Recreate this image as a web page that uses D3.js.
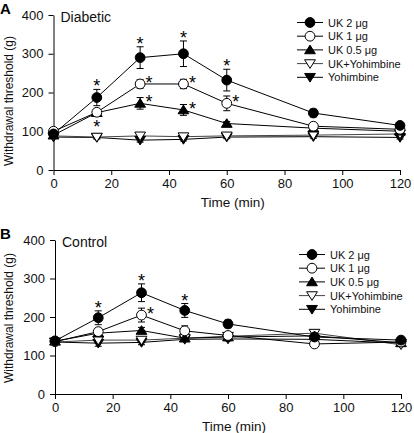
<!DOCTYPE html>
<html><head><meta charset="utf-8">
<script src="https://cdnjs.cloudflare.com/ajax/libs/d3/7.8.5/d3.min.js"></script>
<style>
html,body{margin:0;padding:0;background:#fff;}
svg{display:block;font-family:Arial,"Liberation Sans",sans-serif;}
</style></head>
<body>
<svg id="chart" width="414" height="433"></svg>
<script>
// ---------- data ----------
const times = [0, 15, 30, 45, 60, 90, 120];
const seriesNames = ["UK 2 \u03bcg", "UK 1 \u03bcg", "UK 0.5 \u03bcg", "UK+Yohimbine", "Yohimbine"];
const xTicks = [0, 20, 40, 60, 80, 100, 120];
const yTicks = [0, 100, 200, 300, 400];

// Panel A: Diabetic
const diabUK2   = [93, 187, 290, 300, 232, 147, 115];
const diabUK2e  = [5, 21, 28, 33, 28, 10, 6];
const diabUK1   = [100, 149, 222, 222, 172, 113, 105];
const diabUK1e  = [5, 8, 11, 12, 19, 6, 5];
const diabUK05  = [90, 148, 172, 155, 120, 108, 100];
const diabUK05e = [5, 6, 15, 14, 5, 5, 5];
const diabUKY   = [88, 85, 88, 86, 88, 90, 93];
const diabUKYe  = [4, 4, 5, 4, 4, 4, 4];
const diabYoh   = [85, 84, 77, 79, 85, 86, 84];
const diabYohe  = [4, 4, 5, 4, 4, 4, 4];
// significance marks: [series index, time, placement]
const diabStars = [[0,15,"above"],[0,30,"above"],[0,45,"above"],[0,60,"above"],
                   [1,15,"below"],[1,30,"right"],[1,45,"right"],[1,60,"right"],
                   [2,30,"right"],[2,45,"right"]];

// Panel B: Control
const ctrlUK2   = [138, 198, 263, 217, 182, 148, 140];
const ctrlUK2e  = [5, 18, 23, 18, 10, 8, 6];
const ctrlUK1   = [136, 162, 205, 164, 152, 130, 135];
const ctrlUK1e  = [5, 8, 18, 13, 6, 6, 5];
const ctrlUK05  = [137, 158, 165, 145, 148, 151, 133];
const ctrlUK05e = [5, 6, 8, 6, 5, 6, 5];
const ctrlUKY   = [135, 140, 140, 145, 150, 158, 128];
const ctrlUKYe  = [5, 6, 6, 5, 5, 8, 5];
const ctrlYoh   = [135, 132, 134, 142, 143, 142, 132];
const ctrlYohe  = [5, 8, 6, 5, 5, 6, 5];
const ctrlStars = [[0,15,"above"],[0,30,"above"],[0,45,"above"],[1,30,"right"]];

// ---------- drawing ----------
const svg = d3.select("#chart");
const FONT = "Arial, 'Liberation Sans', sans-serif";

const markerStyle = [
  {shape:"circle", fill:"#000"},
  {shape:"circle", fill:"#fff"},
  {shape:"up", fill:"#000"},
  {shape:"down", fill:"#fff"},
  {shape:"down", fill:"#000"}
];
const lineColor = ["#000","#000","#000","#444","#000"];

function drawMarker(g, cx, cy, st) {
  if (st.shape === "circle") {
    g.append("circle").attr("cx", cx).attr("cy", cy).attr("r", 4.9)
      .attr("fill", st.fill).attr("stroke", "#000").attr("stroke-width", 1);
  } else {
    const w = 5.4, h = 4.8;
    const p = st.shape === "up"
      ? `M${cx},${cy-h} L${cx+w},${cy+h*0.8} L${cx-w},${cy+h*0.8} Z`
      : `M${cx},${cy+h} L${cx+w},${cy-h*0.8} L${cx-w},${cy-h*0.8} Z`;
    g.append("path").attr("d", p).attr("fill", st.fill).attr("stroke", "#000").attr("stroke-width", 1);
  }
}

function panel(opts) {
  const g = svg.append("g");
  const x = d3.scaleLinear().domain([0, 120]).range([opts.x0, opts.x1]);
  const y = d3.scaleLinear().domain([0, 400]).range([opts.yb, opts.yt]);

  const xa = g.append("g").attr("transform", `translate(0,${opts.yb})`)
    .call(d3.axisBottom(x).tickValues(xTicks).tickSize(5).tickSizeOuter(0).tickPadding(4));
  const ya = g.append("g").attr("transform", `translate(${opts.x0},0)`)
    .call(d3.axisLeft(y).tickValues(yTicks).tickSize(5).tickSizeOuter(0).tickPadding(5));
  [xa, ya].forEach(a => {
    a.selectAll("text").attr("font-size", 13).attr("font-family", FONT).attr("fill", "#111");
    a.selectAll("line,path").attr("stroke", "#000").attr("stroke-width", 1);
  });

  g.append("text").attr("x", (opts.x0 + opts.x1) / 2 + 6).attr("y", opts.yb + 37)
    .attr("text-anchor", "middle").attr("font-size", 13.5).attr("fill", "#111").text("Time (min)");
  g.append("text").attr("transform", `translate(${opts.ytx},${opts.ytc}) rotate(-90)`)
    .attr("text-anchor", "middle").attr("font-size", 12).attr("fill", "#111").text("Withdrawal threshold (g)");
  g.append("text").attr("x", 0).attr("y", opts.yt - 1.5).attr("font-size", 15)
    .attr("font-weight", "bold").text(opts.letter);
  g.append("text").attr("x", opts.x0 + 7).attr("y", opts.yt + 7).attr("font-size", 14)
    .attr("fill", "#111").text(opts.title);

  const series = opts.series;
  const line = d3.line().x((d, i) => x(times[i])).y(d => y(d));
  const order = [4, 3, 2, 1, 0];
  order.forEach(si => {
    g.append("path").attr("d", line(series[si].v)).attr("fill", "none")
      .attr("stroke", lineColor[si]).attr("stroke-width", 1);
  });
  order.forEach(si => {
    const s = series[si];
    s.v.forEach((v, i) => {
      const cx = x(times[i]), e = s.e[i];
      const eg = g.append("g").attr("stroke", "#000").attr("stroke-width", 1);
      eg.append("line").attr("x1", cx).attr("x2", cx).attr("y1", y(v - e)).attr("y2", y(v + e));
      eg.append("line").attr("x1", cx - 3.5).attr("x2", cx + 3.5).attr("y1", y(v + e)).attr("y2", y(v + e));
      eg.append("line").attr("x1", cx - 3.5).attr("x2", cx + 3.5).attr("y1", y(v - e)).attr("y2", y(v - e));
    });
  });
  order.forEach(si => {
    series[si].v.forEach((v, i) => drawMarker(g, x(times[i]), y(v), markerStyle[si]));
  });

  opts.stars.forEach(([si, t, pos]) => {
    const i = times.indexOf(t);
    const v = series[si].v[i], e = series[si].e[i];
    let cx = x(t), cy;
    if (pos === "above") cy = y(v + e) - 7;
    else if (pos === "below") cy = y(v) + 11;
    else { cx = x(t) + 9; cy = y(v) - 5; }
    g.append("text").attr("x", cx).attr("y", cy + 10).attr("text-anchor", "middle")
      .attr("font-size", 18).attr("fill", "#000").text("*");
  });

  const lg = g.append("g");
  seriesNames.forEach((name, si) => {
    const ly = opts.ly + si * 13.7;
    lg.append("line").attr("x1", opts.lx).attr("x2", opts.lx + 26).attr("y1", ly).attr("y2", ly)
      .attr("stroke", lineColor[si]).attr("stroke-width", 1);
    drawMarker(lg, opts.lx + 13, ly, markerStyle[si]);
    lg.append("text").attr("x", opts.lx + 31).attr("y", ly + 4).attr("font-size", 11)
      .attr("fill", "#111").text(name);
  });
}

const mk = (v, e) => ({v, e});
panel({letter: "A", title: "Diabetic", x0: 53.5, x1: 400, yb: 170, yt: 15, ytx: 13, ytc: 101,
  lx: 297, ly: 22.5, stars: diabStars,
  series: [mk(diabUK2, diabUK2e), mk(diabUK1, diabUK1e), mk(diabUK05, diabUK05e), mk(diabUKY, diabUKYe), mk(diabYoh, diabYohe)]});
panel({letter: "B", title: "Control", x0: 55, x1: 401, yb: 394, yt: 240, ytx: 13, ytc: 318,
  lx: 299, ly: 254.5, stars: ctrlStars,
  series: [mk(ctrlUK2, ctrlUK2e), mk(ctrlUK1, ctrlUK1e), mk(ctrlUK05, ctrlUK05e), mk(ctrlUKY, ctrlUKYe), mk(ctrlYoh, ctrlYohe)]});
svg.selectAll("text").attr("font-family", FONT);
</script>
</body></html>
